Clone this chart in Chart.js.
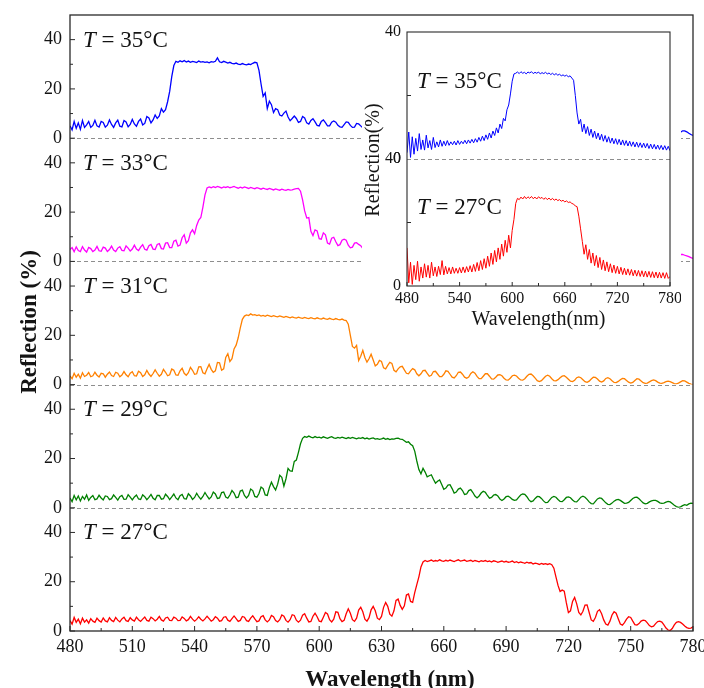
<!DOCTYPE html>
<html><head><meta charset="utf-8">
<script src="https://cdn.jsdelivr.net/npm/chart.js@4.4.1/dist/chart.umd.min.js"></script>
<style>
html,body{margin:0;padding:0;background:#fff;}
#wrap{position:relative;width:704px;height:688px;overflow:hidden;background:#fff;}
#main{position:absolute;left:0;top:0;}
#inset{position:absolute;left:362px;top:16px;background:#fff;}
</style></head><body>
<div id="wrap"><canvas id="main" width="704" height="688"></canvas><canvas id="inset" width="319" height="322"></canvas></div>
<script>
// ---------- data ----------
const wlStart = 480;          // nm, first sample
const wlStep = 1;             // nm between samples (main panels)
const insetStep = 2;          // nm between samples (inset)
const temps = [35, 33, 31, 29, 27];
const seriesColors = ['#0000ff', '#ff00ff', '#ff8000', '#008000', '#ff0000'];
const xTicksMain = [480, 510, 540, 570, 600, 630, 660, 690, 720, 750, 780];
const yTicksMain = [0, 20, 40];
const yMinorMain = [10, 30];
const xTicksInset = [480, 540, 600, 660, 720, 780];
const yTicksInset = [0, 40];

const refl35 = [
5.0,3.4,6.8,4.0,6.2,3.6,7.2,4.4,5.4,6.8,
4.4,5.2,7.3,5.0,4.5,6.8,6.4,4.5,5.3,7.4,
5.6,4.4,6.2,7.3,4.9,4.6,7.2,6.6,4.6,5.6,
7.6,5.8,4.8,6.8,7.8,5.4,6.0,8.8,8.2,6.2,
7.4,9.4,8.0,9.0,12.0,10.6,11.6,14.8,19.0,25.0,
29.5,31.2,30.8,31.4,31.0,31.5,30.9,31.3,30.8,31.2,
31.0,30.7,31.3,30.9,31.1,30.8,31.0,30.6,31.1,30.9,
31.2,32.6,31.0,30.7,31.2,30.9,30.5,30.8,30.4,30.2,
30.5,30.1,29.9,30.3,30.0,29.8,30.1,29.9,30.4,30.8,
30.6,27.5,22.0,17.0,18.4,12.0,15.0,13.6,10.4,12.0,
11.6,9.4,9.0,10.2,11.0,8.6,7.1,8.0,9.0,8.0,
6.4,6.8,8.8,8.2,6.2,5.7,7.2,7.9,6.6,5.2,
5.0,6.8,7.4,6.3,5.0,5.0,6.5,7.0,6.5,5.2,
4.6,4.4,5.5,6.6,6.4,5.2,4.4,4.5,6.0,5.8,
5.0,4.2,4.3,5.4,6.0,5.6,4.5,3.9,4.4,5.5,
5.7,5.0,4.0,3.7,4.4,5.3,5.4,4.6,3.7,3.6,
4.3,5.1,5.1,4.3,3.5,3.4,4.1,4.9,4.9,4.1,
3.3,3.2,3.9,4.6,4.6,3.9,3.1,3.0,3.6,4.4,
4.4,3.7,3.0,2.8,3.4,4.2,4.2,3.6,2.9,2.7,
3.2,4.0,4.1,3.5,2.8,2.6,3.0,3.8,3.9,3.4,
2.7,2.4,2.8,3.6,3.8,3.3,2.6,2.3,2.6,3.4,
3.7,3.3,2.6,2.2,2.4,3.2,3.6,3.3,2.6,2.1,
2.3,3.0,3.5,3.3,2.6,2.1,2.1,2.8,3.4,3.3,
2.7,2.0,2.0,2.6,3.3,3.3,2.7,2.0,1.9,2.4,
3.1,3.3,2.8,2.1,1.8,2.2,2.9,3.2,2.8,2.1,
1.7,2.0,2.7,3.1,2.8,2.2,1.7,1.8,2.5,3.0,
2.9,2.3,1.7,1.7,2.3,2.9,2.9,2.3,1.7,1.6,
2.1,2.7,2.9,2.4,1.8,1.6,2.0,2.6,2.9,2.5,
1.9,1.6,1.9,2.5,2.8,2.6,2.0,1.6,1.8,2.3,
2.7,2.7,2.2,1.8,2.4,3.0,3.0,2.6,2.0,1.5,
1.1];

const refl33 = [
4.8,5.6,3.9,5.9,4.4,4.0,6.0,4.6,3.8,5.7,
5.2,4.0,4.6,6.1,4.3,4.1,5.8,5.4,4.0,4.8,
6.2,4.6,4.0,5.4,6.0,4.5,4.3,6.3,5.4,4.2,
5.0,6.6,5.0,4.4,5.8,6.8,4.9,4.6,6.4,6.9,
5.0,4.8,6.9,7.2,5.2,5.0,7.4,7.6,5.6,5.6,
8.2,8.6,6.2,6.6,9.6,10.8,7.4,8.4,11.6,12.8,
11.2,14.6,16.8,17.8,22.0,27.0,29.8,30.2,29.9,30.3,
30.0,30.4,30.1,29.8,30.2,30.0,30.3,29.9,30.1,30.4,
30.0,29.7,30.1,29.8,30.2,29.9,29.6,30.0,29.7,29.5,
29.9,29.6,29.3,29.7,29.4,29.2,29.6,29.3,29.0,29.4,
29.1,28.9,29.3,29.0,28.8,29.2,28.9,29.0,29.3,29.5,
29.6,28.5,25.0,20.5,17.6,17.8,12.2,10.5,12.8,12.4,
9.2,9.0,11.6,10.8,7.4,7.0,9.4,9.8,8.0,6.4,
6.8,8.6,9.0,8.6,6.6,5.5,5.8,7.4,7.6,6.9,
6.4,5.2,4.8,5.6,6.9,7.0,6.0,4.8,4.4,5.2,
6.3,6.5,5.6,4.4,4.1,4.8,5.8,6.0,5.1,4.0,
3.8,4.5,5.5,5.6,4.7,3.7,3.6,4.4,5.2,5.1,
4.2,3.4,3.4,4.2,4.9,4.8,4.0,3.2,3.2,3.9,
4.6,4.6,3.8,3.0,2.9,3.6,4.3,4.4,3.7,2.9,
2.7,3.3,4.1,4.2,3.6,2.8,2.5,3.0,3.8,4.0,
3.5,2.7,2.3,2.8,3.6,3.8,3.3,2.5,2.2,2.6,
3.4,3.6,3.2,2.4,2.0,2.4,3.1,3.4,3.1,2.4,
1.9,2.2,2.9,3.3,3.0,2.3,1.8,2.0,2.7,3.1,
2.9,2.2,1.7,1.9,2.6,3.0,2.8,2.1,1.6,1.8,
2.5,2.9,2.7,2.0,1.6,1.7,2.4,2.8,2.6,2.0,
1.5,1.6,2.2,2.7,2.6,2.0,1.5,1.5,2.1,2.6,
2.5,1.9,1.4,1.5,2.1,2.5,2.4,1.8,1.4,1.5,
2.0,2.5,2.4,1.8,1.4,1.5,2.0,2.5,2.5,1.9,
1.5,1.6,2.1,2.6,2.6,2.0,1.6,1.7,2.3,2.8,
2.9,2.4,2.0,2.3,2.8,2.8,2.5,2.2,1.9,1.5,
1.2];

const refl31 = [
3.5,2.4,4.6,3.0,4.2,2.6,4.8,3.3,3.8,4.9,
3.2,3.6,5.0,3.8,3.1,4.6,4.4,3.0,4.2,5.1,
3.7,3.3,5.0,4.6,3.2,3.9,5.3,4.0,3.2,4.6,
5.2,3.6,3.5,5.4,4.8,3.3,4.0,5.8,4.3,3.3,
4.5,6.0,4.6,3.4,4.2,6.2,5.0,3.6,4.0,6.3,
5.8,3.9,3.8,5.6,6.6,4.6,3.8,4.8,7.0,5.8,
4.2,4.4,7.2,7.3,4.8,4.4,6.4,8.2,6.2,5.0,
5.6,9.0,8.8,5.8,6.4,11.0,12.5,9.4,10.5,14.5,
16.0,19.0,23.0,26.5,27.8,28.3,28.0,28.7,28.2,28.4,
28.0,28.3,27.8,28.1,27.7,28.2,27.9,27.6,28.0,27.7,
27.5,27.9,27.6,27.3,27.7,27.4,27.1,27.5,27.2,27.0,
27.4,27.1,26.9,27.3,27.0,26.8,27.2,26.9,26.7,27.1,
26.8,26.6,27.0,26.7,26.5,26.9,26.6,26.4,26.8,26.5,
26.3,26.6,26.2,26.0,24.5,20.0,15.5,14.8,15.9,9.8,
11.5,13.9,11.0,9.1,10.5,12.3,10.0,7.6,8.2,9.8,
9.4,6.8,6.4,7.8,9.0,8.6,5.8,5.2,6.4,7.2,
7.4,6.0,4.6,4.4,5.6,6.5,6.0,4.4,3.6,4.4,
5.7,5.8,4.6,3.4,3.8,5.3,5.4,4.3,3.2,3.2,
4.2,5.6,5.4,4.2,3.0,2.7,3.6,5.0,5.1,4.2,
3.0,2.6,3.1,4.5,5.2,4.6,3.3,2.4,2.4,3.4,
4.4,4.4,3.4,2.3,2.2,3.0,3.9,4.0,3.6,2.6,
1.9,1.8,2.6,3.6,3.8,3.5,2.6,1.9,1.8,2.4,
3.4,4.2,4.3,3.6,2.6,1.6,1.2,1.6,2.5,3.4,
3.8,3.4,2.4,1.6,1.5,2.0,2.8,3.4,3.6,3.0,
2.2,1.4,1.2,1.8,2.8,3.1,2.8,2.0,1.2,0.9,
1.4,2.3,3.0,2.9,2.3,1.4,1.0,1.5,2.5,2.8,
2.4,1.6,0.9,0.8,1.3,2.0,2.5,2.4,1.7,1.0,
0.6,0.9,1.7,2.4,2.2,1.5,0.8,0.5,0.6,1.1,
1.6,1.9,1.6,1.0,0.6,0.5,0.8,1.2,1.4,1.2,
0.8,0.4,0.3,0.6,1.1,1.6,1.5,1.0,0.5,0.2,
0.0];

const refl29 = [
4.0,2.5,5.0,3.2,4.8,2.8,4.6,3.5,5.2,3.0,
4.2,5.0,3.3,3.6,5.1,4.0,3.2,4.8,4.6,3.3,
3.7,5.2,4.2,3.1,4.5,5.0,3.4,3.5,5.3,4.3,
3.2,4.4,5.2,3.6,3.4,5.3,4.5,3.3,4.2,5.4,
3.9,3.3,5.0,5.0,3.5,3.7,5.5,4.6,3.3,4.4,
5.6,4.0,3.3,4.9,5.4,3.7,3.6,5.7,4.8,3.4,
4.2,5.9,4.5,3.5,4.6,6.2,4.8,3.6,4.4,6.4,
5.6,3.8,4.0,6.2,6.4,4.4,3.9,5.2,7.0,6.0,
4.1,4.3,6.8,7.2,5.0,4.0,5.0,7.6,7.0,4.6,
4.3,5.8,8.4,7.8,5.2,5.0,8.2,10.4,8.6,7.2,
9.6,13.2,12.4,8.8,11.8,16.0,15.0,14.8,18.8,19.4,
22.5,26.0,28.2,28.9,28.6,29.1,28.7,28.4,28.9,28.5,
28.7,28.3,28.8,28.5,28.2,28.6,28.9,28.4,28.2,28.6,
28.3,28.7,28.4,28.1,28.5,28.2,28.6,28.3,28.0,28.4,
28.2,28.5,28.0,28.3,27.9,28.2,28.4,27.9,28.1,27.8,
28.0,28.3,27.8,28.1,27.7,28.0,27.9,28.2,28.3,27.9,
27.8,27.2,26.6,26.8,25.8,25.2,23.0,19.0,15.5,13.8,
16.0,14.5,12.6,13.0,13.4,11.6,10.0,10.8,11.3,9.5,
7.5,8.0,9.2,9.4,7.8,6.0,6.4,7.6,8.0,7.0,
5.4,5.6,7.0,7.4,6.2,4.8,4.0,4.8,6.0,6.7,
6.3,5.0,3.9,4.2,5.2,5.4,4.8,3.6,3.0,3.6,
4.5,4.7,4.2,3.4,3.0,3.2,4.2,5.2,5.6,5.5,
4.5,3.2,2.5,2.8,3.8,4.6,4.5,3.8,2.8,2.1,
2.2,3.2,4.2,4.6,4.3,3.4,2.6,2.5,3.3,4.2,
4.4,4.1,3.2,2.5,2.4,3.3,4.3,4.7,4.3,3.4,
2.4,1.7,1.6,2.6,3.6,4.0,3.8,2.9,2.0,1.4,
1.3,1.9,2.7,3.2,3.4,3.0,2.4,1.8,1.9,2.2,
3.0,3.8,4.2,4.3,3.7,2.8,2.0,1.6,1.8,2.4,
2.8,3.0,3.0,2.6,2.0,1.8,1.9,2.3,2.6,2.4,
1.7,1.0,0.5,0.2,0.4,0.9,1.3,1.0,1.6,1.9,
1.8];

const refl27 = [
4.2,2.8,5.5,3.5,4.8,2.9,5.2,3.6,4.5,3.2,
5.0,4.0,3.5,5.2,4.2,3.6,5.3,4.1,3.7,5.4,
4.3,3.8,5.5,4.4,3.7,4.9,5.6,4.2,3.9,5.4,
4.5,4.0,5.6,4.6,3.9,4.8,5.7,4.3,4.0,5.6,
5.0,4.1,4.8,5.9,4.5,4.0,5.3,5.6,4.3,4.2,
5.6,5.2,4.2,4.3,5.7,5.1,4.1,4.6,5.9,4.8,
4.0,4.7,5.8,4.8,4.1,4.9,6.0,5.0,4.0,4.6,
5.8,5.2,4.0,4.2,5.6,5.8,4.4,3.9,5.0,6.1,
5.0,3.9,4.3,5.9,5.6,4.2,3.9,5.2,6.2,4.9,
3.8,4.1,5.8,6.2,4.5,3.7,4.5,6.3,5.8,4.2,
3.7,4.6,6.5,6.0,4.3,3.6,4.6,6.6,6.3,4.4,
3.6,4.4,6.4,7.0,5.2,3.7,3.9,6.0,7.2,5.8,
4.0,3.8,5.6,7.5,6.9,4.6,3.7,4.8,7.8,7.6,
5.0,3.8,4.3,7.0,9.0,7.2,4.6,3.9,5.2,8.5,
9.6,7.8,4.8,4.0,5.4,8.6,10.0,8.2,5.2,4.6,
5.9,9.6,11.6,10.0,6.8,6.0,8.2,12.4,13.0,10.4,
8.8,10.2,14.6,15.0,12.0,11.6,15.6,18.8,22.0,26.0,
28.0,28.6,28.2,28.5,28.8,28.3,28.6,28.4,28.9,28.5,
28.3,28.7,28.4,28.8,28.5,28.2,28.6,28.9,28.4,28.6,
28.8,28.3,28.5,28.7,28.2,28.6,28.4,28.1,28.5,28.3,
28.6,28.2,28.4,28.0,28.5,28.3,27.9,28.2,28.4,28.0,
28.3,27.9,28.1,28.4,27.8,28.1,27.7,28.0,27.8,27.5,
27.9,27.6,27.8,27.2,27.5,27.3,27.0,27.4,27.1,27.3,
27.0,27.3,26.9,25.5,22.0,18.5,16.0,16.6,16.2,11.5,
7.5,8.2,12.0,13.6,11.0,7.5,6.5,8.0,10.5,10.6,
7.5,4.5,3.9,5.5,8.0,8.6,7.0,4.5,2.8,2.4,
4.0,6.5,7.8,7.2,5.0,2.8,2.4,3.4,4.8,5.8,
5.5,4.0,2.6,2.4,3.0,4.0,4.4,4.2,3.3,2.2,
1.7,2.0,3.0,3.8,4.0,3.6,2.5,1.2,0.4,0.2,
1.0,2.5,3.5,3.8,3.5,2.8,2.0,1.4,1.1,1.2,
1.7];

const inset35 = [
2.0,8.5,0.5,7.0,1.5,6.5,2.5,8.0,3.0,6.0,
2.8,7.5,3.5,5.8,3.0,6.8,3.6,5.4,3.8,6.0,
4.0,5.6,4.2,5.8,4.3,5.4,4.5,5.6,4.4,5.8,
4.6,5.6,4.8,5.9,4.8,6.0,5.0,6.2,5.1,6.4,
5.3,6.8,5.6,7.2,5.8,7.6,6.2,8.2,6.6,8.8,
7.4,9.8,8.2,11.0,9.6,12.8,12.0,15.5,17.0,20.5,
24.5,26.8,27.0,27.4,26.9,27.5,27.0,27.3,26.8,27.4,
27.1,27.5,26.9,27.3,27.0,27.4,26.8,27.2,26.9,27.3,
26.8,27.1,26.6,27.0,26.5,26.9,26.4,26.7,26.2,26.5,
26.1,26.4,25.9,26.2,25.5,24.8,20.0,14.5,11.0,12.5,
8.6,11.0,8.0,10.2,7.4,9.4,6.8,8.8,6.4,8.2,
6.0,7.8,5.6,7.4,5.3,7.0,5.0,6.6,4.8,6.4,
4.6,6.2,4.4,6.0,4.3,5.8,4.1,5.6,4.0,5.4,
3.8,5.3,3.7,5.1,3.6,5.0,3.5,4.9,3.3,4.7,
3.2,4.6,3.1,4.4,3.0,4.3,2.9,4.2,2.8,4.0,
2.6];

const inset27 = [
12.0,1.0,7.5,0.5,6.5,2.0,7.8,1.5,6.0,2.5,
7.0,2.8,6.5,2.5,7.5,3.2,6.0,3.0,6.2,3.6,
8.0,3.5,6.2,3.8,5.8,3.8,6.0,4.0,5.6,4.0,
5.8,4.1,6.0,4.2,6.1,4.4,6.4,4.4,6.8,4.6,
7.4,4.8,8.0,5.2,8.6,5.6,9.4,6.2,10.4,6.8,
11.2,7.6,12.0,8.4,13.2,9.4,14.4,10.6,16.0,12.0,
17.5,21.0,26.0,27.6,27.2,28.0,27.4,28.2,27.5,28.1,
27.6,28.2,27.5,28.0,27.4,28.1,27.6,27.9,27.3,27.8,
27.2,27.7,27.1,27.6,27.0,27.4,26.9,27.2,26.7,27.0,
26.5,26.8,26.3,26.5,26.0,25.8,25.2,25.0,22.0,18.0,
14.0,10.0,13.0,8.4,11.5,7.2,10.4,6.4,9.6,5.8,
9.0,5.2,8.2,4.8,7.6,4.5,7.0,4.2,6.6,4.0,
6.2,3.8,5.9,3.6,5.6,3.5,5.4,3.4,5.2,3.2,
5.0,3.1,4.9,3.0,4.8,2.9,4.7,2.8,4.6,2.7,
4.5,2.6,4.4,2.5,4.3,2.5,4.2,2.4,4.2,2.4,
3.0];

// ---------- drawing ----------
const FONT = "'Liberation Serif','Times New Roman',serif";
const INK = '#141414';
const FRAME = '#2a2a2a';
const toPts = (arr, step) => arr.map((v, i) => ({x: wlStart + i * step, y: v}));
const mids = arr => arr.slice(1).map((v, i) => (v + arr[i]) / 2);
const noPad = s => { s.paddingLeft = 0; s.paddingRight = 0; s.paddingTop = 0; s.paddingBottom = 0; };

function drawTLabel(ctx, x, y, t, size) {
  ctx.fillStyle = INK;
  ctx.textBaseline = 'alphabetic';
  ctx.textAlign = 'left';
  ctx.font = `italic ${size}px ${FONT}`;
  ctx.fillText('T', x, y);
  const w = ctx.measureText('T').width;
  ctx.font = `${size}px ${FONT}`;
  ctx.fillText(' = ' + t + '\u00B0C', x + w, y);
}

const mainSeries = [refl35, refl33, refl31, refl29, refl27];
const panelIds = temps.map(t => 'p' + t);

const mainScales = {
  x: {
    type: 'linear', position: 'bottom', min: 480, max: 780,
    afterBuildTicks: s => { s.ticks = xTicksMain.map(v => ({value: v})); },
    afterFit: s => { s.height = 57; noPad(s); },
    grid: {display: false, drawTicks: false}, border: {display: false},
    ticks: {font: {family: FONT, size: 18}, color: INK, padding: 5, maxRotation: 0, autoSkip: false}
  }
};
// define bottom panel first so that the last one sits on top of the stack
[...panelIds].reverse().forEach(id => {
  mainScales[id] = {
    type: 'linear', position: 'left', stack: 'panels', stackWeight: 1, min: 0, max: 50,
    afterBuildTicks: s => { s.ticks = yTicksMain.map(v => ({value: v})); },
    afterFit: s => { s.width = 70; noPad(s); },
    grid: {display: false, drawTicks: false}, border: {display: false},
    ticks: {font: {family: FONT, size: 18}, color: INK, padding: 8}
  };
});

const mainDecor = {
  id: 'mainDecor',
  beforeDatasetsDraw(chart) {
    const {ctx, chartArea: a} = chart;
    ctx.save();
    ctx.strokeStyle = '#8e8e8e'; ctx.lineWidth = 1; ctx.setLineDash([4, 3]);
    panelIds.slice(0, 4).forEach(id => {
      const y = Math.round(chart.scales[id].getPixelForValue(0)) + 0.5;
      ctx.beginPath(); ctx.moveTo(a.left, y); ctx.lineTo(a.right, y); ctx.stroke();
    });
    ctx.restore();
  },
  afterDatasetsDraw(chart) {
    const {ctx, chartArea: a} = chart;
    const xs = chart.scales.x;
    ctx.save();
    ctx.strokeStyle = FRAME; ctx.lineWidth = 1.3;
    ctx.strokeRect(a.left, a.top, a.right - a.left, a.bottom - a.top);
    ctx.lineWidth = 1;
    ctx.beginPath();
    xTicksMain.forEach(v => { const x = xs.getPixelForValue(v); ctx.moveTo(x, a.bottom); ctx.lineTo(x, a.bottom - 5); });
    mids(xTicksMain).forEach(v => { const x = xs.getPixelForValue(v); ctx.moveTo(x, a.bottom); ctx.lineTo(x, a.bottom - 3); });
    panelIds.forEach(id => {
      const s = chart.scales[id];
      yTicksMain.forEach(v => { const y = s.getPixelForValue(v); ctx.moveTo(a.left, y); ctx.lineTo(a.left + 5, y); });
      yMinorMain.forEach(v => { const y = s.getPixelForValue(v); ctx.moveTo(a.left, y); ctx.lineTo(a.left + 3, y); });
    });
    ctx.stroke();
    panelIds.forEach((id, i) => {
      const y = chart.scales[id].getPixelForValue(40) + 7;
      drawTLabel(ctx, a.left + 13, y, temps[i], 23);
    });
    ctx.fillStyle = INK;
    ctx.font = `bold 23px ${FONT}`;
    ctx.textAlign = 'center'; ctx.textBaseline = 'alphabetic';
    ctx.fillText('Wavelength (nm)', 390, 686);
    ctx.translate(30, 322); ctx.rotate(-Math.PI / 2);
    ctx.textBaseline = 'middle';
    ctx.fillText('Reflection (%)', 0, 0);
    ctx.restore();
  }
};

new Chart(document.getElementById('main'), {
  type: 'line',
  data: {
    datasets: mainSeries.map((arr, i) => ({
      label: 'T = ' + temps[i] + '\u00B0C',
      data: toPts(arr, wlStep), yAxisID: panelIds[i], xAxisID: 'x',
      borderColor: seriesColors[i], borderWidth: 1.3, pointRadius: 0, tension: 0, fill: false
    }))
  },
  options: {
    responsive: false, animation: false, devicePixelRatio: 1,
    layout: {padding: {left: 0, right: 11, top: 15, bottom: 0}},
    plugins: {legend: {display: false}, tooltip: {enabled: false}},
    scales: mainScales
  },
  plugins: [mainDecor]
});

// ---------- inset ----------
const insetIds = ['lo', 'up'];
const insetScales = {
  x: {
    type: 'linear', position: 'bottom', min: 480, max: 780,
    afterBuildTicks: s => { s.ticks = xTicksInset.map(v => ({value: v})); },
    afterFit: s => { s.height = 52; noPad(s); },
    grid: {display: false, drawTicks: false}, border: {display: false},
    ticks: {font: {family: FONT, size: 16}, color: INK, padding: 3, maxRotation: 0, autoSkip: false}
  }
};
insetIds.forEach(id => {
  insetScales[id] = {
    type: 'linear', position: 'left', stack: 'ins', stackWeight: 1, min: 0, max: 40,
    afterBuildTicks: s => { s.ticks = yTicksInset.map(v => ({value: v})); },
    afterFit: s => { s.width = 45; noPad(s); },
    grid: {display: false, drawTicks: false}, border: {display: false},
    ticks: {font: {family: FONT, size: 16}, color: INK, padding: 6}
  };
});

const insetDecor = {
  id: 'insetDecor',
  beforeDatasetsDraw(chart) {
    const {ctx, chartArea: a} = chart;
    ctx.save();
    ctx.strokeStyle = '#8e8e8e'; ctx.lineWidth = 1; ctx.setLineDash([4, 3]);
    const y = Math.round(chart.scales.up.getPixelForValue(0)) + 0.5;
    ctx.beginPath(); ctx.moveTo(a.left, y); ctx.lineTo(a.right, y); ctx.stroke();
    ctx.restore();
  },
  afterDatasetsDraw(chart) {
    const {ctx, chartArea: a} = chart;
    const xs = chart.scales.x;
    ctx.save();
    ctx.strokeStyle = FRAME; ctx.lineWidth = 1.1;
    ctx.strokeRect(a.left, a.top, a.right - a.left, a.bottom - a.top);
    ctx.lineWidth = 1;
    ctx.beginPath();
    xTicksInset.forEach(v => { const x = xs.getPixelForValue(v); ctx.moveTo(x, a.bottom); ctx.lineTo(x, a.bottom - 4); });
    mids(xTicksInset).forEach(v => { const x = xs.getPixelForValue(v); ctx.moveTo(x, a.bottom); ctx.lineTo(x, a.bottom - 3); });
    insetIds.forEach(id => {
      const yy = chart.scales[id].getPixelForValue(20);
      ctx.moveTo(a.left, yy); ctx.lineTo(a.left + 4, yy);
    });
    ctx.stroke();
    drawTLabel(ctx, a.left + 10, chart.scales.up.getPixelForValue(40) + 56, 35, 23);
    drawTLabel(ctx, a.left + 10, chart.scales.lo.getPixelForValue(40) + 55, 27, 23);
    ctx.fillStyle = INK;
    ctx.font = `20px ${FONT}`;
    ctx.textAlign = 'center'; ctx.textBaseline = 'alphabetic';
    ctx.fillText('Wavelength(nm)', (a.left + a.right) / 2, 309);
    ctx.translate(12, 144); ctx.rotate(-Math.PI / 2);
    ctx.textBaseline = 'middle';
    ctx.fillText('Reflection(%)', 0, 0);
    ctx.restore();
  }
};

new Chart(document.getElementById('inset'), {
  type: 'line',
  data: {
    datasets: [
      {label: 'T = 35\u00B0C', data: toPts(inset35, insetStep), yAxisID: 'up', xAxisID: 'x',
       borderColor: seriesColors[0], borderWidth: 1, pointRadius: 0, tension: 0, fill: false},
      {label: 'T = 27\u00B0C', data: toPts(inset27, insetStep), yAxisID: 'lo', xAxisID: 'x',
       borderColor: seriesColors[4], borderWidth: 1, pointRadius: 0, tension: 0, fill: false}
    ]
  },
  options: {
    responsive: false, animation: false, devicePixelRatio: 1,
    layout: {padding: {left: 0, right: 11, top: 16, bottom: 0}},
    plugins: {legend: {display: false}, tooltip: {enabled: false}},
    scales: insetScales
  },
  plugins: [insetDecor]
});
</script>
</body></html>
